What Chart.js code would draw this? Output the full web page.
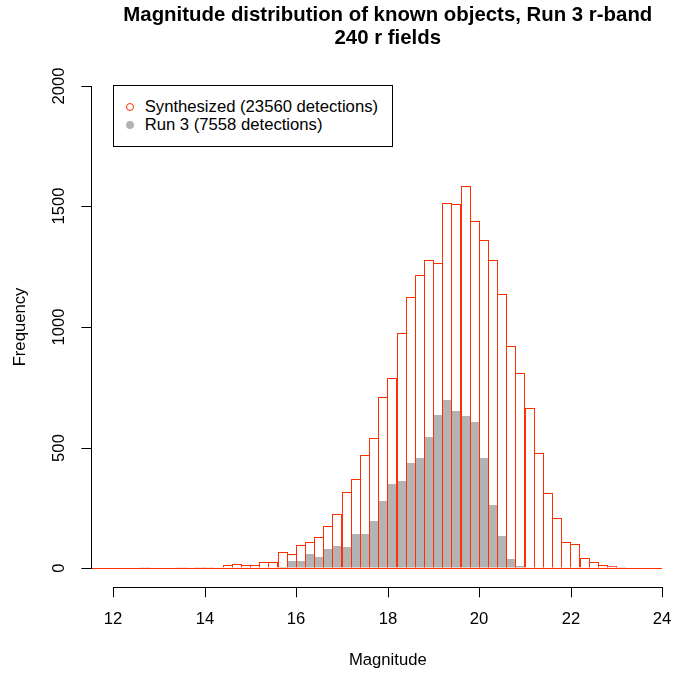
<!DOCTYPE html>
<html lang="en">
<head>
  <meta charset="UTF-8" />
  <title>Magnitude distribution of known objects</title>
  <script src="https://cdn.jsdelivr.net/npm/chart.js@4.4.1/dist/chart.umd.min.js"></script>
  <style>
    body { margin: 0; background: #fff; overflow: hidden; }
    .wrap { position: relative; width: 673px; height: 677px; overflow: hidden; }
    #histChart { position: absolute; left: 0; top: 0; }
    .legend {
      position: absolute; left: 113px; top: 85px; width: 280px; height: 62px;
      border: 1px solid #000; box-sizing: border-box; background: #fff;
      font-family: "Liberation Sans", Arial, sans-serif; font-size: 16.67px; line-height: 20px; color: #000;
    }
    .legend .row { position: absolute; left: 30.7px; white-space: nowrap; }
    .legend .dot { position: absolute; left: -19px; top: 6px; width: 8px; height: 8px; border-radius: 50%; box-sizing: border-box; }
  </style>
</head>
<body>
<div class="wrap">
  <canvas id="histChart" width="700" height="677"></canvas>
  <div class="legend" id="legend"></div>
</div>

<script>
  // lower edge of each 0.2 mag bin
  const binStarts = [
    11.6, 11.8, 12.0, 12.2, 12.4, 12.6, 12.8, 13.0, 13.2, 13.4,
    13.6, 13.8, 14.0, 14.2, 14.4, 14.6, 14.8, 15.0, 15.2, 15.4,
    15.6, 15.8, 16.0, 16.2, 16.4, 16.6, 16.8, 17.0, 17.2, 17.4,
    17.6, 17.8, 18.0, 18.2, 18.4, 18.6, 18.8, 19.0, 19.2, 19.4,
    19.6, 19.8, 20.0, 20.2, 20.4, 20.6, 20.8, 21.0, 21.2, 21.4,
    21.6, 21.8, 22.0, 22.2, 22.4, 22.6, 22.8, 23.0, 23.2, 23.4,
    23.6, 23.8
  ];
  const synthCounts = [
    0, 1, 0, 0, 0, 4, 2, 1, 2, 3,
    2, 4, 4, 2, 12, 15, 14, 12, 23, 25,
    67, 57, 97, 109, 129, 174, 223, 314, 368, 469,
    541, 708, 790, 975, 1124, 1214, 1278, 1264, 1514, 1509,
    1585, 1441, 1361, 1277, 1136, 920, 808, 664, 476, 310,
    209, 107, 98, 43, 25, 11, 10, 3, 1, 0,
    0, 0
  ];
  const run3Counts = [
    0, 0, 0, 0, 0, 0, 0, 0, 0, 0,
    0, 0, 0, 0, 0, 0, 0, 0, 0, 0,
    5, 29, 29, 57, 46, 77, 93, 86, 142, 140,
    196, 277, 349, 361, 434, 458, 545, 635, 697, 653,
    631, 604, 455, 261, 134, 38, 8, 0, 0, 0,
    0, 0, 0, 0, 0, 0, 0, 0, 0, 0,
    0, 0
  ];
  const xTicks = [12, 14, 16, 18, 20, 22, 24];
  const yTicks = [0, 500, 1000, 1500, 2000];
  const seriesLabels = ['Synthesized (23560 detections)', 'Run 3 (7558 detections)'];
  const titleLines = ['Magnitude distribution of known objects, Run 3 r-band', '240 r fields'];

  const BIN = 0.2;
  const RED = '#ff3000';
  const GRAY = '#b3b3b3';
  const FONT = '"Liberation Sans", Arial, sans-serif';

  const centers = binStarts.map(b => +(b + BIN / 2).toFixed(2));
  const toPoints = counts => centers.map((x, i) => ({ x: x, y: counts[i] }));

  // R-style axis lines (first to last tick) and the zero line under the bars
  const rAxes = {
    id: 'rAxes',
    afterDatasetsDraw(chart) {
      const { ctx, scales: { x, y } } = chart;
      const y0 = Math.round(y.getPixelForValue(0));
      ctx.save();
      ctx.fillStyle = RED;
      const xl = chart.chartArea.left;
      ctx.fillRect(xl, y0, x.getPixelForValue(binStarts[binStarts.length - 1] + BIN) - xl, 1);
      ctx.restore();
    },
    afterDraw(chart) {
      const { ctx, chartArea, scales: { x, y } } = chart;
      ctx.save();
      ctx.fillStyle = '#000';
      const xa = Math.round(x.getPixelForValue(xTicks[0]));
      const xb = Math.round(x.getPixelForValue(xTicks[xTicks.length - 1]));
      ctx.fillRect(xa, Math.round(chartArea.bottom), xb - xa + 1, 1);
      const ya = Math.round(y.getPixelForValue(yTicks[yTicks.length - 1]));
      const yb = Math.round(y.getPixelForValue(yTicks[0]));
      ctx.fillRect(Math.floor(chartArea.left), ya, 1, yb - ya + 1);
      ctx.restore();
    }
  };

  const tickFont = { family: FONT, size: 16.67 };

  const chart = new Chart(document.getElementById('histChart'), {
    type: 'bar',
    data: {
      datasets: [
        {
          label: seriesLabels[0],
          data: toPoints(synthCounts),
          backgroundColor: 'rgba(0,0,0,0)',
          borderColor: RED,
          borderWidth: 1,
          borderSkipped: 'start',
          barPercentage: 1.11,
          categoryPercentage: 1,
          inflateAmount: 0,
          order: 0
        },
        {
          label: seriesLabels[1],
          data: toPoints(run3Counts),
          backgroundColor: GRAY,
          borderWidth: 0,
          barPercentage: 1,
          categoryPercentage: 1,
          inflateAmount: 0,
          order: 1
        }
      ]
    },
    options: {
      responsive: false,
      animation: false,
      layout: { padding: { left: 0, right: 15.7, top: 0, bottom: 0 } },
      datasets: { bar: { grouped: false } },
      plugins: {
        legend: { display: false },
        tooltip: { enabled: false },
        title: {
          display: true,
          text: titleLines,
          fullSize: false,
          color: '#000',
          font: { family: FONT, size: 20.4, weight: 'bold', lineHeight: 1.13 },
          padding: { top: 3.5, bottom: 17.1 }
        }
      },
      scales: {
        x: {
          type: 'linear',
          min: 11.52,
          max: 24.48,
          offset: false,
          alignToPixels: true,
          afterFit: s => { s.height = 89.7; },
          afterBuildTicks: s => { s.ticks = xTicks.map(v => ({ value: v })); },
          border: { display: false },
          grid: { offset: false, drawOnChartArea: false, drawTicks: true, tickLength: 10, color: '#000', lineWidth: 1 },
          ticks: { font: tickFont, color: '#000', padding: 12, maxRotation: 0, autoSkip: false, callback: v => String(v) },
          title: { display: true, text: 'Magnitude', color: '#000', font: tickFont, padding: { top: 0, bottom: 7 } }
        },
        y: {
          min: -80,
          max: 2080,
          alignToPixels: true,
          afterFit: s => { s.width = 91.3; },
          afterBuildTicks: s => { s.ticks = yTicks.map(v => ({ value: v })); },
          border: { display: false },
          grid: { drawOnChartArea: false, drawTicks: true, tickLength: 10, color: '#000', lineWidth: 1 },
          ticks: { font: tickFont, color: '#000', padding: 3, minRotation: 90, maxRotation: 90, crossAlign: 'center', callback: v => String(v) },
          title: { display: true, text: 'Frequency', color: '#000', font: tickFont, padding: { top: 10, bottom: 0 } }
        }
      }
    },
    plugins: [rAxes]
  });

  // legend box, built from the dataset labels
  const legendEl = document.getElementById('legend');
  const rowTops = [11, 29.3];
  chart.data.datasets.forEach((ds, i) => {
    const row = document.createElement('div');
    row.className = 'row';
    row.style.top = rowTops[i] + 'px';
    const dot = document.createElement('span');
    dot.className = 'dot';
    if (i === 0) { dot.style.border = '1px solid ' + RED; }
    else { dot.style.background = GRAY; }
    row.appendChild(dot);
    row.appendChild(document.createTextNode(ds.label));
    legendEl.appendChild(row);
  });
</script>
</body>
</html>
